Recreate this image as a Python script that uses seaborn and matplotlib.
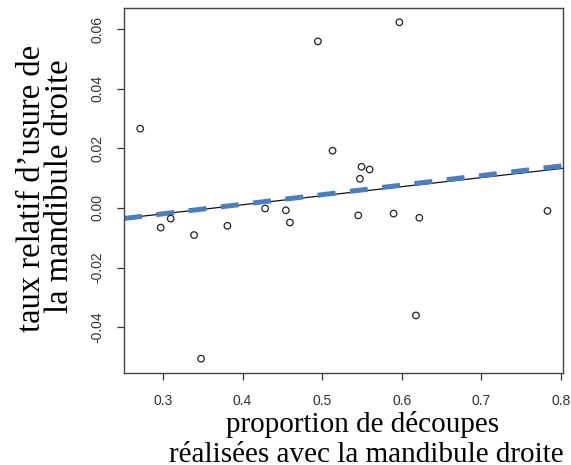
import numpy as np
import pandas as pd
import matplotlib
matplotlib.use("Agg")
import matplotlib.pyplot as plt
import seaborn as sns

# data
prop_droite = [0.2714, 0.4946, 0.5969, 0.5130, 0.5494, 0.5595, 0.5474, 0.2971,
               0.3097, 0.3390, 0.3809, 0.4283, 0.4543, 0.4594, 0.5453, 0.5897,
               0.6220, 0.6178, 0.7830, 0.3478]
taux_usure = [0.0266, 0.0559, 0.0623, 0.0192, 0.0138, 0.0129, 0.0098, -0.0066,
              -0.0036, -0.0091, -0.0060, -0.0002, -0.0008, -0.0049, -0.0025, -0.0019,
              -0.0033, -0.0361, -0.0010, -0.0506]
# fitted lines: (intercept, slope)
black_fit = (-0.0111, 0.0304)
blue_fit = (-0.0116, 0.0321)
x_ticks = [0.3, 0.4, 0.5, 0.6, 0.7, 0.8]
y_ticks = [-0.04, -0.02, 0.00, 0.02, 0.04, 0.06]
x_lim = (0.251, 0.8025)
y_lim = (-0.0554, 0.0671)

sns.set_style("white")
plt.rcParams['font.family'] = ['Liberation Sans', 'DejaVu Sans']

fig = plt.figure(figsize=(5.71, 4.65), dpi=100)
ax = fig.add_axes([124/571, 1 - 373/465, (563 - 124)/571, (373 - 8)/465])

df = pd.DataFrame({"x": prop_droite, "y": taux_usure})
sns.scatterplot(data=df, x="x", y="y", ax=ax, marker="o", s=22,
                facecolor="none", edgecolor="#222222", linewidth=0.9, zorder=3)

xl = np.array(x_lim)
lines = pd.DataFrame({"x": xl, "black": black_fit[0] + black_fit[1] * xl,
                      "blue": blue_fit[0] + blue_fit[1] * xl})
sns.lineplot(data=lines, x="x", y="black", ax=ax, color="#111111", lw=0.9, zorder=2)
sns.lineplot(data=lines, x="x", y="blue", ax=ax, color="#4a7ec0", lw=3.6,
             dashes=False, zorder=2.5)
ax.lines[-1].set_dashes((3.6, 2.9))
ax.lines[-1].set_dash_capstyle("butt")

ax.set_xlim(*x_lim)
ax.set_ylim(*y_lim)
ax.set_xticks(x_ticks)
ax.set_xticklabels([f"{v:.1f}" for v in x_ticks])
ax.set_yticks(y_ticks)
ax.set_yticklabels([f"{v:.2f}" for v in y_ticks], rotation=90, va="center")
ax.tick_params(axis="both", direction="out", length=5, width=0.9,
               colors="#333333", labelsize=10, pad=9, bottom=True, left=True)
ax.tick_params(axis="x", pad=10)
for sp in ax.spines.values():
    sp.set_color("#444444")
    sp.set_linewidth(1.0)
ax.set_xlabel("")
ax.set_ylabel("")

serif = ['Liberation Serif', 'DejaVu Serif']
fig.text(363/571, 1 - 432/465, "proportion de découpes", ha="center", va="baseline",
         fontsize=21, family=serif, color="black")
fig.text(366/571, 1 - 462/465, "réalisées avec la mandibule droite", ha="center",
         va="baseline", fontsize=21, family=serif, color="black")
fig.text(40/571, 1 - 188/465, "taux relatif d’usure de", ha="center", va="baseline",
         rotation=90, rotation_mode="anchor", fontsize=23.5, family=serif, color="black")
fig.text(68/571, 1 - 186/465, "la mandibule droite", ha="center", va="baseline",
         rotation=90, rotation_mode="anchor", fontsize=23.5, family=serif, color="black")

fig.savefig("out.png", dpi=100)
